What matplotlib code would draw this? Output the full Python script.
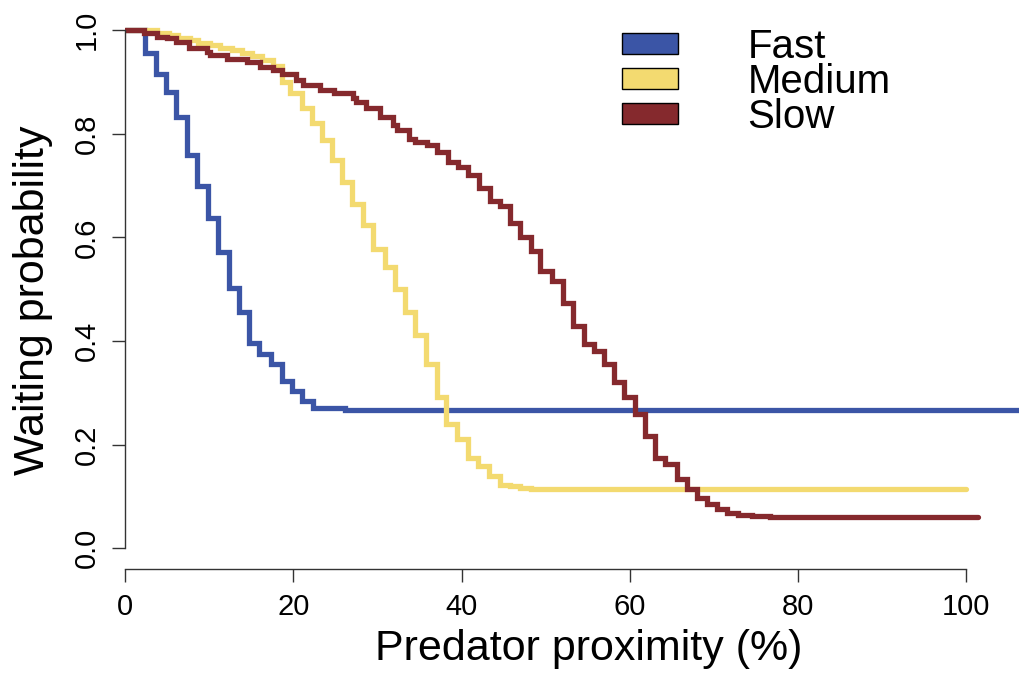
import matplotlib.pyplot as plt
from matplotlib.patches import Patch

# Waiting probability step curves (drop position on x, level after the drop)
fast_x = [0, 2.4, 3.65, 4.9, 6.1, 7.4, 8.6, 9.9, 11.1, 12.3, 13.5, 14.7, 15.9,
          17.4, 18.6, 19.8, 21.0, 22.3, 26.2, 112]
fast_y = [1.0, 0.955, 0.916, 0.881, 0.832, 0.758, 0.699, 0.638, 0.571, 0.503,
          0.455, 0.397, 0.375, 0.355, 0.323, 0.304, 0.284, 0.270, 0.266, 0.266]

medium_x = [0, 3.8, 5.2, 6.3, 7.7, 8.7, 10.1, 11.3, 12.7, 13.9, 15.1, 16.3, 17.6,
            18.6, 19.6, 21.0, 22.2, 23.4, 24.6, 25.8, 27.0, 28.3, 29.5, 30.9,
            32.1, 33.3, 34.5, 35.8, 37.1, 38.2, 39.5, 40.8, 42.0, 43.3, 44.6,
            45.8, 47.0, 48.2, 100.0]
medium_y = [1.0, 0.995, 0.990, 0.984, 0.981, 0.975, 0.971, 0.966, 0.961, 0.955,
            0.950, 0.943, 0.930, 0.900, 0.878, 0.849, 0.820, 0.787, 0.749, 0.707,
            0.665, 0.623, 0.578, 0.542, 0.500, 0.455, 0.411, 0.355, 0.291, 0.240,
            0.211, 0.175, 0.159, 0.140, 0.123, 0.120, 0.117, 0.114, 0.114]

slow_x = [0, 2.2, 3.8, 5.0, 6.1, 7.6, 9.7, 10.1, 12.1, 14.5, 16.1, 17.6, 18.6,
          20.3, 21.2, 23.2, 24.8, 27.1, 27.5, 28.7, 30.3, 31.9, 32.3, 33.7, 34.5,
          35.9, 37.1, 38.4, 39.6, 40.8, 42.1, 43.4, 44.6, 45.8, 47.0, 48.2, 49.3,
          50.7, 52.1, 53.3, 54.5, 55.7, 56.9, 58.1, 59.3, 60.6, 61.8, 63.0, 64.2,
          65.6, 66.8, 68.0, 69.2, 70.4, 71.6, 72.8, 74.5, 76.7, 101.4]
slow_y = [1.0, 0.994, 0.987, 0.984, 0.977, 0.965, 0.958, 0.952, 0.945, 0.939,
          0.929, 0.923, 0.916, 0.903, 0.894, 0.884, 0.878, 0.868, 0.861, 0.849,
          0.832, 0.816, 0.807, 0.790, 0.784, 0.778, 0.765, 0.745, 0.736, 0.720,
          0.695, 0.671, 0.660, 0.628, 0.600, 0.574, 0.536, 0.516, 0.474, 0.429,
          0.394, 0.381, 0.355, 0.320, 0.291, 0.259, 0.217, 0.175, 0.162, 0.133,
          0.114, 0.097, 0.085, 0.075, 0.068, 0.065, 0.063, 0.060, 0.060]

labels = ["Fast", "Medium", "Slow"]
colors = ["#3B55A6", "#F3DA70", "#85292D"]

x_ticks = [0, 20, 40, 60, 80, 100]
y_ticks = [0.0, 0.2, 0.4, 0.6, 0.8, 1.0]

plt.rcParams['font.family'] = ['Liberation Sans', 'DejaVu Sans']

fig = plt.figure(figsize=(10.19, 6.75), dpi=100)
ax = fig.add_axes([0.1227, 0.157, 0.9107, 0.8292])

for xs, ys, c in zip([fast_x, medium_x, slow_x], [fast_y, medium_y, slow_y], colors):
    ax.step(xs, ys, where='post', color=c, linewidth=3.8,
            solid_capstyle='round', solid_joinstyle='miter')

ax.set_xlim(0, 110.3)
ax.set_ylim(-0.04, 1.04)

for side in ['top', 'right']:
    ax.spines[side].set_visible(False)
ax.spines['left'].set_bounds(0, 1)
ax.spines['bottom'].set_bounds(0, 100)
for side in ['left', 'bottom']:
    ax.spines[side].set_color('#333333')
    ax.spines[side].set_linewidth(1.0)

ax.set_xticks(x_ticks)
ax.set_xticklabels([str(t) for t in x_ticks])
ax.set_yticks(y_ticks)
ax.set_yticklabels(["%.1f" % t for t in y_ticks], rotation=90, va='center')
ax.tick_params(direction='out', length=9.4, width=1.0, color='#333333',
               labelsize=21, pad=8)

ax.set_xlabel("Predator proximity (%)", fontsize=31)
ax.set_ylabel("Waiting probability", fontsize=31)
ax.xaxis.set_label_coords(0.5, -0.107)
ax.yaxis.set_label_coords(-0.0776, 0.48)

handles = [Patch(facecolor=c, edgecolor='black', linewidth=1.0) for c in colors]
ax.legend(handles, labels, loc='upper left', bbox_to_anchor=(0.610, 0.9586),
          bbox_transform=fig.transFigure, frameon=False, fontsize=29,
          handlelength=1.39, handleheight=0.42, handletextpad=1.74,
          labelspacing=-0.08, borderpad=0, borderaxespad=0)

plt.savefig("out.png", dpi=100)
